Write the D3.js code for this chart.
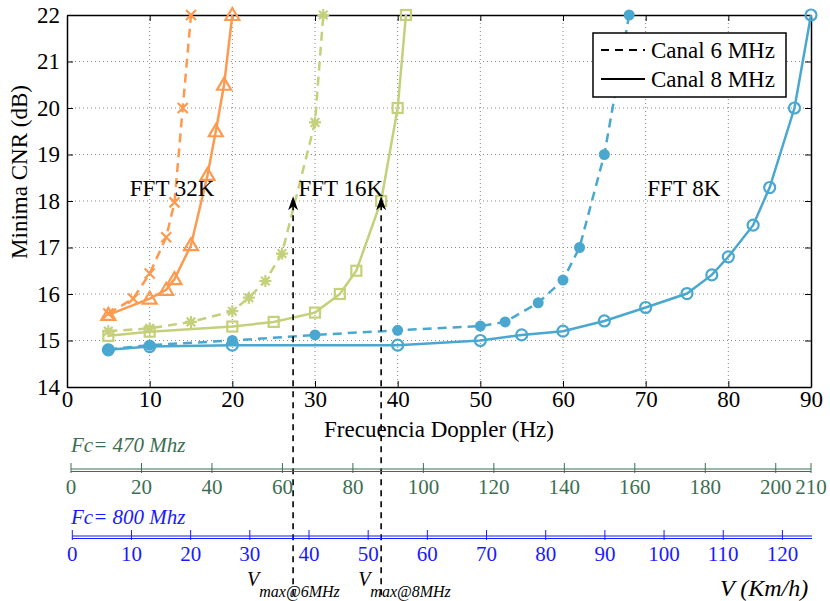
<!DOCTYPE html>
<html><head><meta charset="utf-8">
<script src="https://cdn.jsdelivr.net/npm/d3@7"></script>
<style>body{margin:0;background:#fff}svg text{font-family:"Liberation Serif","Times New Roman",serif}</style>
</head><body><svg id="c" width="830" height="601"></svg>
<script>
// ---- data ----
const xTicks = [0,10,20,30,40,50,60,70,80,90];
const yTicks = [14,15,16,17,18,19,20,21,22];
const o6x = [5,8,10,12,13,14,15];
const o6y = [15.58,15.9,16.44,17.22,17.97,20.0,22];
const o8x = [5,10,12,13,15,17,18,19,20];
const o8y = [15.55,15.9,16.09,16.32,17.05,18.56,19.5,20.5,22];
const g6x = [5,10,15,20,22,24,26,30,31];
const g6y = [15.2,15.26,15.4,15.63,15.92,16.28,16.87,19.69,22];
const g8x = [5,10,20,25,30,33,35,38,40,41];
const g8y = [15.1,15.19,15.3,15.4,15.6,16.0,16.5,18.0,20.0,22];
const b6x = [5,10,20,30,40,50,53,57,60,62,65,68];
const b6y = [14.81,14.9,15.0,15.12,15.22,15.31,15.4,15.81,16.3,17.0,19.0,22];
const b8x = [5,10,20,40,50,55,60,65,70,75,78,80,83,85,88,90];
const b8y = [14.8,14.87,14.9,14.9,15.0,15.12,15.2,15.42,15.71,16.01,16.41,16.8,17.48,18.29,20.0,22];
const vmaxHz = [27.35, 38.0];
const vmaxLabels = ["max@6MHz","max@8MHz"];
const fftLabels = ["FFT 32K","FFT 16K","FFT 8K"];
const fftLabelX = [7.6,28.0,70.2];
const fftLabelY = 18.1;
const legendLabels = ["Canal 6 MHz","Canal 8 MHz"];
const v470Ticks = [0,20,40,60,80,100,120,140,160,180,200,210];
const v800Ticks = [0,10,20,30,40,50,60,70,80,90,100,110,120];

const ORANGE="#fd9a4f", GREEN="#c5d07a", BLUE="#4aa8d0";
const FONT = "Liberation Serif, Times New Roman, serif";

const svg = d3.select("#c");
const L=67,R=811,T=15,B=387;
const x = d3.scaleLinear().domain([0,90]).range([L,R]);
const y = d3.scaleLinear().domain([14,22]).range([B,T]);

// grid
const g = svg.append("g");
g.selectAll(".gx").data(xTicks.slice(1,-1)).join("line")
  .attr("x1",d=>x(d)).attr("x2",d=>x(d)).attr("y1",T).attr("y2",B)
  .attr("stroke","#888").attr("stroke-width",1).attr("stroke-dasharray","1,3");
g.selectAll(".gy").data(yTicks.slice(1,-1)).join("line")
  .attr("y1",d=>y(d)).attr("y2",d=>y(d)).attr("x1",L).attr("x2",R)
  .attr("stroke","#888").attr("stroke-width",1).attr("stroke-dasharray","1,3");

// axes (inward ticks)
const axB = svg.append("g").attr("transform",`translate(0,${B})`)
  .call(d3.axisBottom(x).tickValues(xTicks).tickSizeInner(-6).tickSizeOuter(0).tickPadding(6));
const axT = svg.append("g").attr("transform",`translate(0,${T})`)
  .call(d3.axisTop(x).tickValues(xTicks).tickSizeInner(-6).tickSizeOuter(0).tickFormat(""));
const axL = svg.append("g").attr("transform",`translate(${L},0)`)
  .call(d3.axisLeft(y).tickValues(yTicks).tickSizeInner(-6).tickSizeOuter(0).tickPadding(7));
const axR = svg.append("g").attr("transform",`translate(${R},0)`)
  .call(d3.axisRight(y).tickValues(yTicks).tickSizeInner(-6).tickSizeOuter(0).tickFormat(""));
[axB,axT,axL,axR].forEach(a=>{
  a.attr("font-family",FONT);
  a.select(".domain").attr("stroke","#000").attr("stroke-width",1.5);
  a.selectAll(".tick line").attr("stroke","#000");
  a.selectAll("text").attr("font-family",FONT).attr("font-size",23).attr("fill","#000");
});
axB.selectAll("text").attr("dy","0.6em");
axL.selectAll("text").attr("dy","0.32em");

svg.append("text").attr("x",439).attr("y",437).attr("text-anchor","middle")
  .attr("font-size",23).text("Frecuencia Doppler (Hz)");
svg.append("text").attr("transform","translate(27,172) rotate(-90)").attr("text-anchor","middle")
  .attr("font-size",23).text("Minima CNR (dB)");

// lines
const line = d3.line().x(d=>x(d[0])).y(d=>y(d[1]));
const series = [
  {xs:o6x,ys:o6y,c:ORANGE,dash:true,m:"x"},
  {xs:o8x,ys:o8y,c:ORANGE,dash:false,m:"tri"},
  {xs:g6x,ys:g6y,c:GREEN,dash:true,m:"star"},
  {xs:g8x,ys:g8y,c:GREEN,dash:false,m:"sq"},
  {xs:b6x,ys:b6y,c:BLUE,dash:true,m:"dot"},
  {xs:b8x,ys:b8y,c:BLUE,dash:false,m:"circ"},
];
series.forEach(s=>{
  const pts = s.xs.map((v,i)=>[v,s.ys[i]]);
  svg.append("path").datum(pts).attr("d",line).attr("fill","none")
    .attr("stroke",s.c).attr("stroke-width",2.5)
    .attr("stroke-dasharray",s.dash?"9,6":null);
  const mg = svg.append("g").attr("stroke",s.c).attr("stroke-width",2.2).attr("fill","none");
  pts.forEach(p=>{
    const cx=x(p[0]), cy=y(p[1]);
    const k = mg.append("g").attr("transform",`translate(${cx},${cy})`);
    if(s.m==="x"){k.append("path").attr("d","M-5,-5L5,5M-5,5L5,-5");}
    else if(s.m==="tri"){k.append("path").attr("d","M0,-7L7,5L-7,5Z");}
    else if(s.m==="star"){k.append("path").attr("d","M0,-6L0,6M-6,0L6,0M-4.3,-4.3L4.3,4.3M-4.3,4.3L4.3,-4.3");}
    else if(s.m==="sq"){k.append("rect").attr("x",-5).attr("y",-5).attr("width",10).attr("height",10);}
    else if(s.m==="dot"){k.append("circle").attr("r",5.5).attr("fill",s.c).attr("stroke","none");}
    else if(s.m==="circ"){k.append("circle").attr("r",5.5);}
  });
});

// FFT labels
fftLabels.forEach((t,i)=>{
  svg.append("text").attr("x",x(fftLabelX[i])).attr("y",y(fftLabelY)).attr("font-size",23).text(t);
});

// vmax dashed arrows
const vOffsets = [-46,-23];
vmaxHz.forEach((v,i)=>{
  const xx = x(v), tip = y(18.1);
  svg.append("line").attr("x1",xx).attr("x2",xx).attr("y1",tip+8).attr("y2",598)
    .attr("stroke","#000").attr("stroke-width",1.6).attr("stroke-dasharray","6,5");
  svg.append("path").attr("d",`M${xx},${tip}L${xx-5},${tip+14}L${xx},${tip+10}L${xx+5},${tip+14}Z`).attr("fill","#000");
  const vx = xx+vOffsets[i];
  const vt = svg.append("text").attr("x",vx).attr("y",586).attr("font-style","italic").attr("font-size",20).text("V");
  const w = vt.node().getComputedTextLength();
  svg.append("text").attr("x",vx+w).attr("y",597).attr("font-style","italic").attr("font-size",16).text(vmaxLabels[i]);
});

// legend
const lg = svg.append("g");
lg.append("rect").attr("x",593).attr("y",33).attr("width",193).attr("height",64)
  .attr("fill","#fff").attr("stroke","#000").attr("stroke-width",1.5);
legendLabels.forEach((t,i)=>{
  const yy = 50+i*29;
  lg.append("line").attr("x1",601).attr("x2",645).attr("y1",yy).attr("y2",yy)
    .attr("stroke","#000").attr("stroke-width",2).attr("stroke-dasharray",i===0?"8,6":null);
  lg.append("text").attr("x",651).attr("y",yy+8).attr("font-size",23).text(t);
});

// bottom speed axes
const v470 = d3.scaleLinear().domain([0,210]).range([71,811]);
const v800 = d3.scaleLinear().domain([0,125]).range([72.3,812]);
const DG="#3d6e52", BL="#1a1aff";
function speedAxis(sc, ticks, yy, col, label, ly){
  const a = svg.append("g");
  a.append("line").attr("x1",sc.range()[0]).attr("x2",sc.range()[1]).attr("y1",yy-1).attr("y2",yy-1).attr("stroke",col).attr("stroke-width",1);
  a.append("line").attr("x1",sc.range()[0]).attr("x2",sc.range()[1]).attr("y1",yy+1.5).attr("y2",yy+1.5).attr("stroke",col).attr("stroke-width",1);
  a.selectAll(".t").data(ticks).join("line").attr("x1",d=>sc(d)).attr("x2",d=>sc(d))
    .attr("y1",yy-7).attr("y2",yy+3).attr("stroke",col).attr("stroke-width",1);
  a.selectAll(".l").data(ticks).join("text").attr("x",d=>sc(d)).attr("y",yy+24)
    .attr("text-anchor","middle").attr("font-size",21).attr("fill",col).text(d=>d);
  svg.append("text").attr("x",71).attr("y",ly).attr("font-size",21).attr("font-style","italic").attr("fill",col).text(label);
}
speedAxis(v470, v470Ticks, 470, DG, "Fc= 470 Mhz", 452);
speedAxis(v800, v800Ticks, 537, BL, "Fc= 800 Mhz", 524);

svg.append("text").attr("x",720).attr("y",596).attr("font-size",24).attr("font-style","italic").text("V (Km/h)");
</script></body></html>
